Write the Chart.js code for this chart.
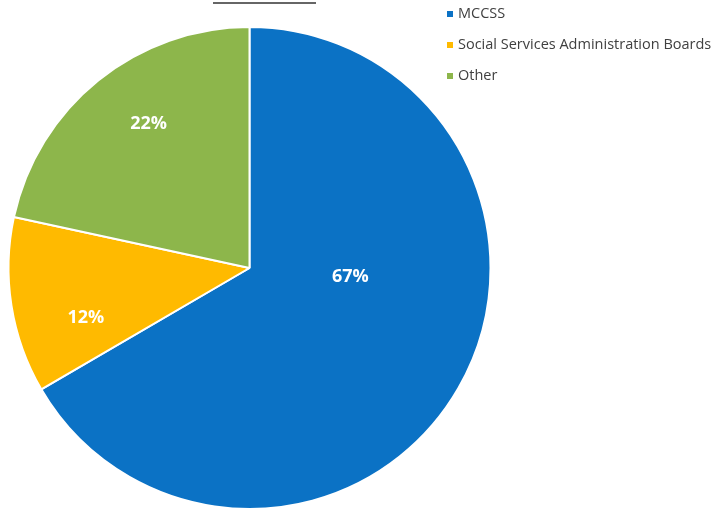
<!DOCTYPE html>
<html>
<head>
<meta charset="utf-8">
<script src="https://cdn.jsdelivr.net/npm/chart.js@4/dist/chart.umd.min.js"></script>
<style>
  html, body { margin: 0; padding: 0; background: #fff; }
  #wrap { position: relative; width: 714px; height: 510px; }
</style>
</head>
<body>
<div id="wrap"><canvas id="canvas" width="714" height="510"></canvas></div>
<script>
// data
var labels = ['MCCSS', 'Social Services Administration Boards', 'Other'];
var values = [66.6, 11.8, 21.6];
var colors = ['#0B72C5', '#FFBA00', '#8DB64B'];

// where Excel put each data label (angle clockwise from 12 o'clock, fraction of radius)
var labelSpots = [{ a: 95, f: 0.42 }, { a: 253, f: 0.71 }, { a: 325, f: 0.73 }];

var decorPlugin = {
  id: 'decor',
  afterDatasetsDraw: function(chart) {
    var ctx = chart.ctx;
    var meta = chart.getDatasetMeta(0);
    var arc = meta.data[0];
    var cx = arc.x, cy = arc.y, r = arc.outerRadius;
    var total = values.reduce(function(s, v) { return s + v; }, 0);

    ctx.save();
    // percentages
    ctx.fillStyle = '#fff';
    ctx.font = 'bold 18px "Open Sans", sans-serif';
    ctx.textAlign = 'center';
    ctx.textBaseline = 'middle';
    values.forEach(function(v, i) {
      var s = labelSpots[i];
      var t = s.a * Math.PI / 180;
      var x = cx + Math.sin(t) * r * s.f;
      var y = cy - Math.cos(t) * r * s.f;
      ctx.fillText(Math.round(v / total * 100) + '%', x, y);
    });

    // legend
    ctx.font = '14.5px "Open Sans", sans-serif';
    ctx.textAlign = 'left';
    labels.forEach(function(l, i) {
      var y = 14 + i * 31;
      ctx.fillStyle = colors[i];
      ctx.fillRect(447, y - 3, 6, 6);
      ctx.fillStyle = '#404040';
      ctx.fillText(l, 458, y);
    });

    // underline of the cut-off title
    ctx.strokeStyle = '#333';
    ctx.lineWidth = 1.5;
    ctx.beginPath();
    ctx.moveTo(213, 3);
    ctx.lineTo(316, 3);
    ctx.stroke();
    ctx.restore();
  }
};

var config = {
  type: 'pie',
  data: {
    labels: labels,
    datasets: [{
      data: values,
      backgroundColor: colors,
      borderColor: '#fff',
      borderWidth: 2
    }]
  },
  options: {
    responsive: false,
    animation: false,
    layout: { padding: { left: 7, top: 26, right: 222, bottom: 0 } },
    plugins: {
      legend: { display: false },
      tooltip: { enabled: false }
    }
  },
  plugins: [decorPlugin]
};

window.onload = function() {
  var ctx = document.getElementById('canvas').getContext('2d');
  window.myPie = new Chart(ctx, config);
};
</script>
</body>
</html>
